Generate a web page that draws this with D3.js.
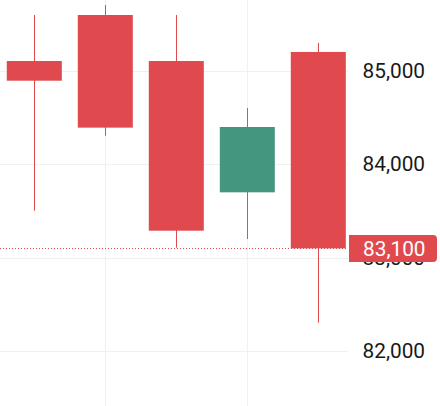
<!DOCTYPE html>
<html>
<head>
<meta charset="utf-8">
<script src="https://cdn.jsdelivr.net/npm/d3@7"></script>
<style>
  html, body { margin: 0; padding: 0; background: #fff; }
  svg { display: block; }
</style>
</head>
<body>
<div id="chart"></div>
<script>
const width = 440;
const height = 406;
const plotRight = 348;

// data
const periods = ["P1", "P2", "P3", "P4", "P5"];
const opens  = [85107, 85600, 85107, 83700, 85204];
const highs  = [85600, 85707, 85600, 84604, 85300];
const lows   = [83503, 84307, 83107, 83200, 82303];
const closes = [84896, 84393, 83289, 84400, 83100];
const yTicks = [82000, 83000, 84000, 85000];
const lastPrice = 83100;

const upColor = "#45967f";
const downColor = "#e04a4f";
const fontFamily = "Roboto, sans-serif";
const fontSize = "20.8px";

const candles = periods.map((p, i) => ({
    p: p, o: opens[i], h: highs[i], l: lows[i], c: closes[i]
}));

const svg = d3.select("#chart")
    .append("svg")
        .attr("width", width)
        .attr("height", height);

const x = d3.scaleBand()
    .domain(periods)
    .range([-1.2, 353.8])
    .paddingInner(0.225)
    .paddingOuter(0.1125);

const y = d3.scaleLinear()
    .domain([82000, 85000])
    .range([351, 71]);

const cx = d => x(d) + x.bandwidth() / 2;

// grid
svg.append("g")
    .selectAll("line")
    .data(yTicks)
    .enter()
    .append("line")
        .attr("x1", 0)
        .attr("x2", plotRight)
        .attr("y1", d => Math.round(y(d)) + 0.5)
        .attr("y2", d => Math.round(y(d)) + 0.5)
        .attr("stroke", "#f0f0f0");

svg.append("g")
    .selectAll("line")
    .data([periods[1], periods[3]])
    .enter()
    .append("line")
        .attr("x1", d => Math.round(cx(d)) + 0.5)
        .attr("x2", d => Math.round(cx(d)) + 0.5)
        .attr("y1", 0)
        .attr("y2", height)
        .attr("stroke", "#f0f0f0");

// candles
const color = d => d.c >= d.o ? upColor : downColor;

svg.append("g")
    .selectAll("line")
    .data(candles)
    .enter()
    .append("line")
        .attr("x1", d => Math.round(cx(d.p)) + 0.5)
        .attr("x2", d => Math.round(cx(d.p)) + 0.5)
        .attr("y1", d => y(d.h))
        .attr("y2", d => y(d.l))
        .attr("stroke", color)
        .attr("stroke-width", 1);

svg.append("g")
    .selectAll("rect")
    .data(candles)
    .enter()
    .append("rect")
        .attr("x", d => x(d.p))
        .attr("width", x.bandwidth())
        .attr("y", d => y(Math.max(d.o, d.c)))
        .attr("height", d => Math.abs(y(d.o) - y(d.c)))
        .attr("fill", color);

// price axis
const axis = svg.append("g")
    .attr("transform", `translate(${plotRight},0)`)
    .call(d3.axisRight(y)
        .tickValues(yTicks)
        .tickFormat(d3.format(","))
        .tickSize(0)
        .tickPadding(14.5));

axis.select(".domain").remove();
axis.selectAll("text")
    .attr("fill", "#191919")
    .style("font-family", fontFamily)
    .style("font-size", fontSize);

// last price line + label
const py = Math.round(y(lastPrice)) + 0.5;
svg.append("line")
    .attr("x1", 0)
    .attr("x2", plotRight)
    .attr("y1", py)
    .attr("y2", py)
    .attr("stroke", downColor)
    .attr("stroke-width", 1)
    .attr("stroke-dasharray", "1,2");

svg.append("path")
    .attr("d", `M349,${py - 13.5} H433 a4,4 0 0 1 4,4 V${py + 9.5} a4,4 0 0 1 -4,4 H349 Z`)
    .attr("fill", downColor);

svg.append("text")
    .attr("x", 363)
    .attr("y", py)
    .attr("dy", "0.35em")
    .attr("fill", "#fff")
    .style("font-family", fontFamily)
    .style("font-size", fontSize)
    .text(d3.format(",")(lastPrice));
</script>
</body>
</html>
